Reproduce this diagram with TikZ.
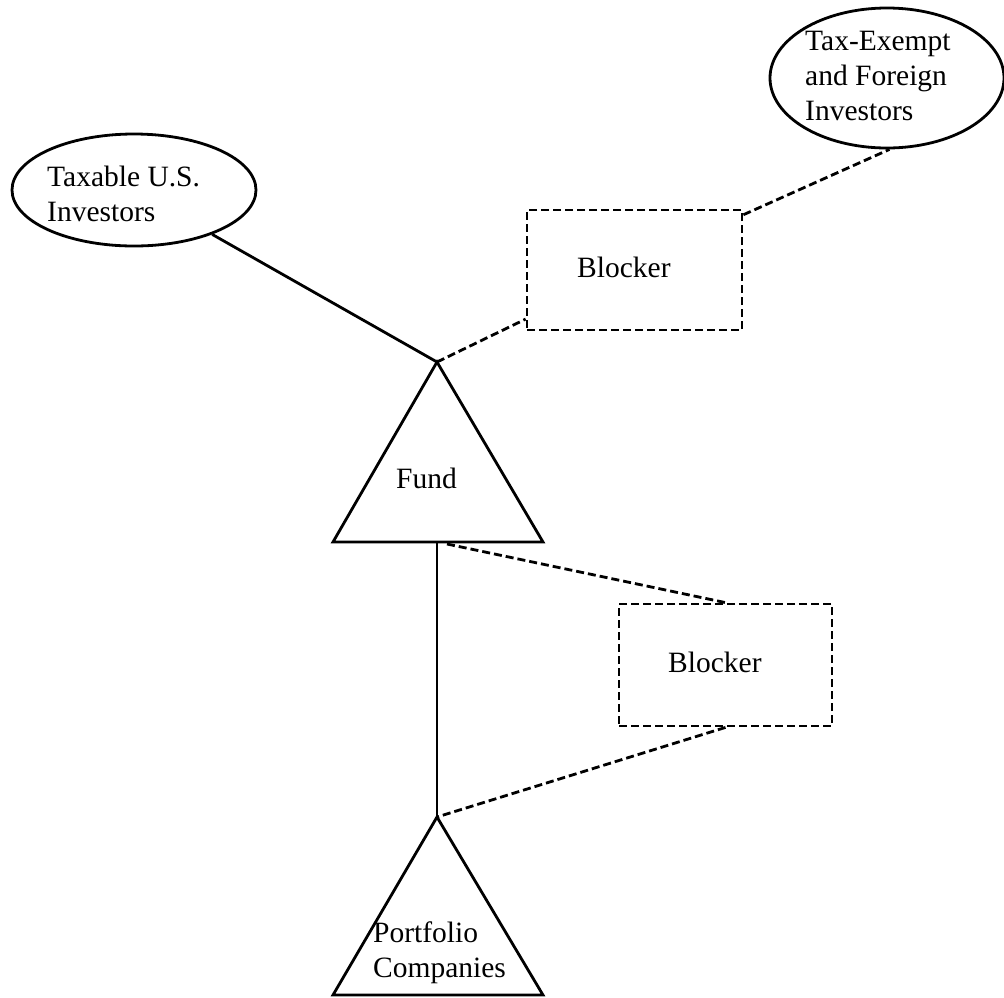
\documentclass[tikz,border=0pt]{standalone}
\usepackage{fontspec}
\setmainfont{Liberation Serif}
\usetikzlibrary{shapes.geometric,calc}
\begin{document}
\begin{tikzpicture}[x=1pt,y=-1pt,
  every node/.style={font=\fontsize{29.5}{35}\selectfont},
  txt/.style={inner sep=0pt, align=left},
  oval/.style={ellipse, draw, line width=2.8pt, inner sep=0pt},
  blockbox/.style={draw, line width=2.8pt, dash pattern=on 8pt off 4pt, inner sep=0pt},
  solidline/.style={line width=2.8pt},
  dashline/.style={line width=2.8pt, dash pattern=on 8pt off 4pt},
  tri/.style={draw, line width=2.8pt, line join=miter}]
\useasboundingbox (0,0) rectangle (1004,997);
% ellipses
\node[oval, minimum width=244pt, minimum height=112pt] (taxus) at (134,190) {};
\node[oval, minimum width=234pt, minimum height=140pt] (taxex) at (887,78) {};
% blockers
\node[blockbox, minimum width=215pt, minimum height=120pt] (blk1) at (634.5,270) {};
\node[blockbox, minimum width=213pt, minimum height=122pt] (blk2) at (725.5,665) {};
% triangles
\coordinate (fundtop) at (437,362);
\coordinate (fundl) at (333,542);
\coordinate (fundr) at (543,542);
\coordinate (fundbase) at (437,542);
\coordinate (fundb2) at (447,544);
\coordinate (portop) at (437,817);
\coordinate (porl) at (333,995);
\coordinate (porr) at (543,995);
\draw[tri] (fundtop) -- (fundr) -- (fundl) -- cycle;
\draw[tri] (portop) -- (porr) -- (porl) -- cycle;
% texts (base anchor = baseline of the last line)
\node[txt, anchor=base west] (ttaxus) at (47,221) {Taxable U.S.\\Investors};
\node[txt, anchor=base west] (ttaxex) at (805,120) {Tax-Exempt\\and Foreign\\Investors};
\node[txt, anchor=base west] (tblk1) at (577,277) {Blocker};
\node[txt, anchor=base west] (tblk2) at (668,672) {Blocker};
\node[txt, anchor=base west] (tfund) at (396,488) {Fund};
\node[txt, anchor=base west] (tpor) at (373,977) {Portfolio\\Companies};
% connectors
\draw[solidline] (taxus) -- (fundtop);
\draw[dashline] (fundtop) -- ($(blk1.south west)!0.1!(blk1.north west)$);
\draw[dashline] ($(blk1.north east)!0.05!(blk1.south east)$) -- (taxex.-88);
\draw[solidline] (fundbase) -- (portop);
\draw[dashline] (fundb2) -- (blk2.north);
\draw[dashline] (blk2.south) -- (portop);
\end{tikzpicture}
\end{document}
